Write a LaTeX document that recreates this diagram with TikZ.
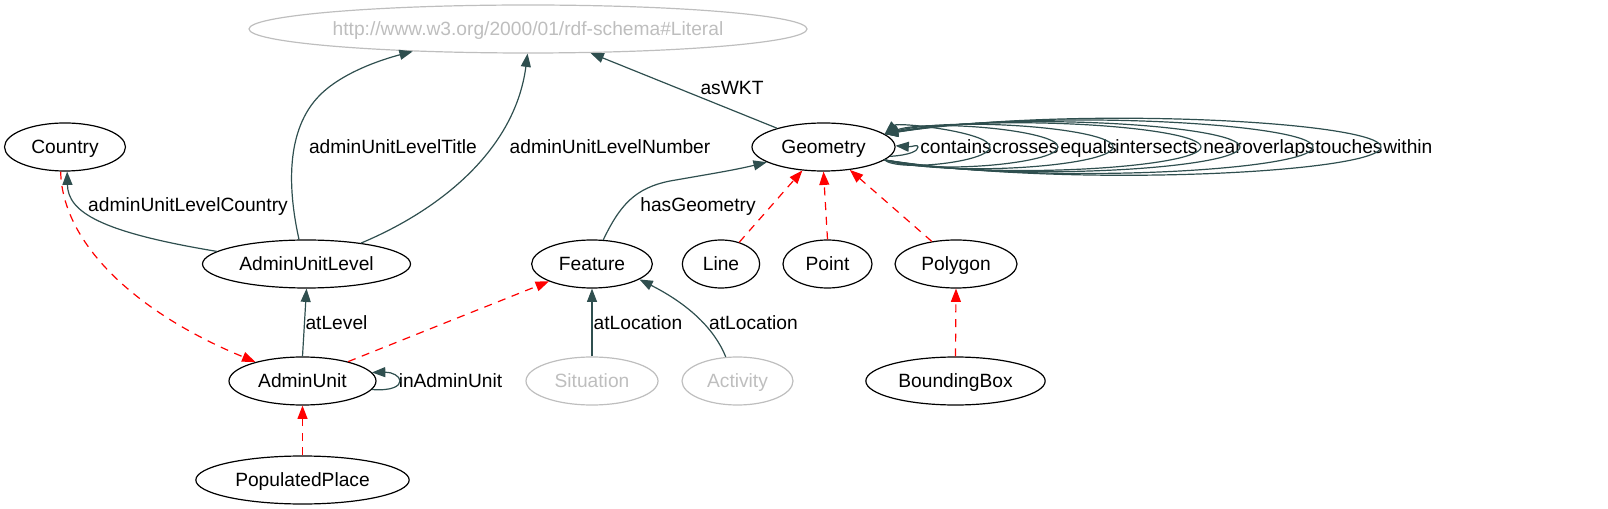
\documentclass[tikz,border=0pt]{standalone}
\usepackage{fontspec}
\setmainfont{Liberation Sans}
\usetikzlibrary{shapes.geometric,arrows.meta}
\definecolor{slate}{HTML}{2F4F4F}
\definecolor{litgray}{RGB}{190,190,190}
\tikzset{
  txt/.style={font=\fontsize{14.4}{16}\selectfont, text height=10pt, text depth=0pt},
  cls/.style={txt, ellipse, draw=black, line width=0.9pt, minimum height=36pt, inner sep=0pt},
  ext/.style={cls, draw=litgray, text=litgray},
  rel/.style={draw=slate, line width=0.9pt, -{Triangle[length=10pt,width=7.5pt]}},
  sub/.style={draw=red, line width=0.9pt, dash pattern=on 6pt off 5pt, -{Triangle[length=10pt,width=7.5pt]}},
  lbl/.style={txt, inner sep=0pt},
  llbl/.style={lbl, anchor=west}
}
\begin{document}
\begin{tikzpicture}[x=0.75pt,y=-0.75pt]
\useasboundingbox (0,0) rectangle (1608,509);
% nodes
\node[ext, minimum width=418.5pt] (lit) at (528,29) {http://www.w3.org/2000/01/rdf-schema\#Literal};
\node[cls, minimum width=90.75pt] (country) at (65,147) {Country};
\node[cls, minimum width=107.25pt] (geo) at (823.5,147) {Geometry};
\node[cls, minimum width=156pt] (aul) at (306.5,264) {AdminUnitLevel};
\node[cls, minimum width=90.5pt] (feat) at (592,264) {Feature};
\node[cls, minimum width=58pt] (line) at (721,264) {Line};
\node[cls, minimum width=66.75pt] (point) at (827.5,264) {Point};
\node[cls, minimum width=91.5pt] (poly) at (956,264) {Polygon};
\node[cls, minimum width=110.25pt] (au) at (302.5,381) {AdminUnit};
\node[ext, minimum width=99pt] (sit) at (592,381) {Situation};
\node[ext, minimum width=83.25pt] (act) at (737.5,381) {Activity};
\node[cls, minimum width=134.5pt] (bbox) at (955.5,381) {BoundingBox};
\node[cls, minimum width=160pt] (pp) at (302.5,480) {PopulatedPlace};

% edge labels
\node[lbl] (lWKT) at (732,88) {asWKT};
\node[lbl] (lTitle) at (393,147) {adminUnitLevelTitle};
\node[lbl] (lNumber) at (610,147) {adminUnitLevelNumber};
\node[lbl] (lCountry) at (188,205) {adminUnitLevelCountry};
\node[lbl] (lGeom) at (698,205) {hasGeometry};
\node[lbl] (lLevel) at (336.5,323) {atLevel};
\node[lbl] (lLoc1) at (638,323) {atLocation};
\node[lbl] (lLoc2) at (753.5,323) {atLocation};
\node[lbl] (lInAU) at (450.5,381) {inAdminUnit};
\node[llbl] (lContains) at (920,147) {contains};
\node[llbl] (lCrosses) at (992,147) {crosses};
\node[llbl] (lEquals) at (1060,147) {equals};
\node[llbl] (lIntersects) at (1115,147) {intersects};
\node[llbl] (lNear) at (1203,147) {near};
\node[llbl] (lOverlaps) at (1242,147) {overlaps};
\node[llbl] (lTouches) at (1315,147) {touches};
\node[llbl] (lWithin) at (1383,147) {within};

% relations
\draw[rel] (aul.107) .. controls (288,190) and (285,130) .. (320,95) .. controls (342,73) and (380,60) .. (lit.191);
\draw[rel] (aul.21) .. controls (440,210) and (515,150) .. (lit.269);
\draw[rel] (geo.158) -- (lit.-21);
\draw[rel] (aul.172) .. controls (100,232) and (68,212) .. (country.-85);
\draw[rel] (au.north) -- (aul.south);
\draw[rel] (au.-7) .. controls (392,391) and (400,386) .. (400,381) .. controls (400,376) and (392,372) .. (au.7);
\draw[rel] (feat.65) .. controls (620,205) and (635,188) .. (670,181) .. controls (710,174) and (735,170) .. (geo.195);
\draw[rel] (sit.north) -- (feat.south);
\draw[rel] (act.116) .. controls (715,330) and (690,305) .. (feat.-18.6);

% geometry self loops
\draw[rel] (geo.-8) .. controls (910,155) and (918,151) .. (918,147) .. controls (918,144) and (912,147) .. (geo.1);
\draw[rel] (geo.-12) .. controls (898,172) and (990,162) .. (990,147) .. controls (990,132) and (898,122) .. (geo.12);
\draw[rel] (geo.-12) .. controls (929,175) and (1058,163.8) .. (1058,147) .. controls (1058,130.2) and (929,119) .. (geo.12);
\draw[rel] (geo.-12) .. controls (954,178) and (1113,165.6) .. (1113,147) .. controls (1113,128.4) and (954,116) .. (geo.12);
\draw[rel] (geo.-12) .. controls (993,181) and (1201,167.4) .. (1201,147) .. controls (1201,126.6) and (993,113) .. (geo.12);
\draw[rel] (geo.-12) .. controls (1011,183) and (1240,168.6) .. (1240,147) .. controls (1240,125.4) and (1011,111) .. (geo.12);
\draw[rel] (geo.-12) .. controls (1044,186) and (1313,170.4) .. (1313,147) .. controls (1313,123.6) and (1044,108) .. (geo.12);
\draw[rel] (geo.-12) .. controls (1074,189) and (1381,172.2) .. (1381,147) .. controls (1381,121.8) and (1074,105) .. (geo.12);

% subclass edges
\draw[sub] (country.-100) .. controls (62,240) and (130,310) .. (au.158);
\draw[sub] (au.23) -- (feat.202);
\draw[sub] (pp.north) -- (au.south);
\draw[sub] (line.50) -- (geo.228);
\draw[sub] (point.north) -- (geo.south);
\draw[sub] (poly.137.5) -- (geo.-41.3);
\draw[sub] (bbox.north) -- (poly.south);
\end{tikzpicture}
\end{document}
